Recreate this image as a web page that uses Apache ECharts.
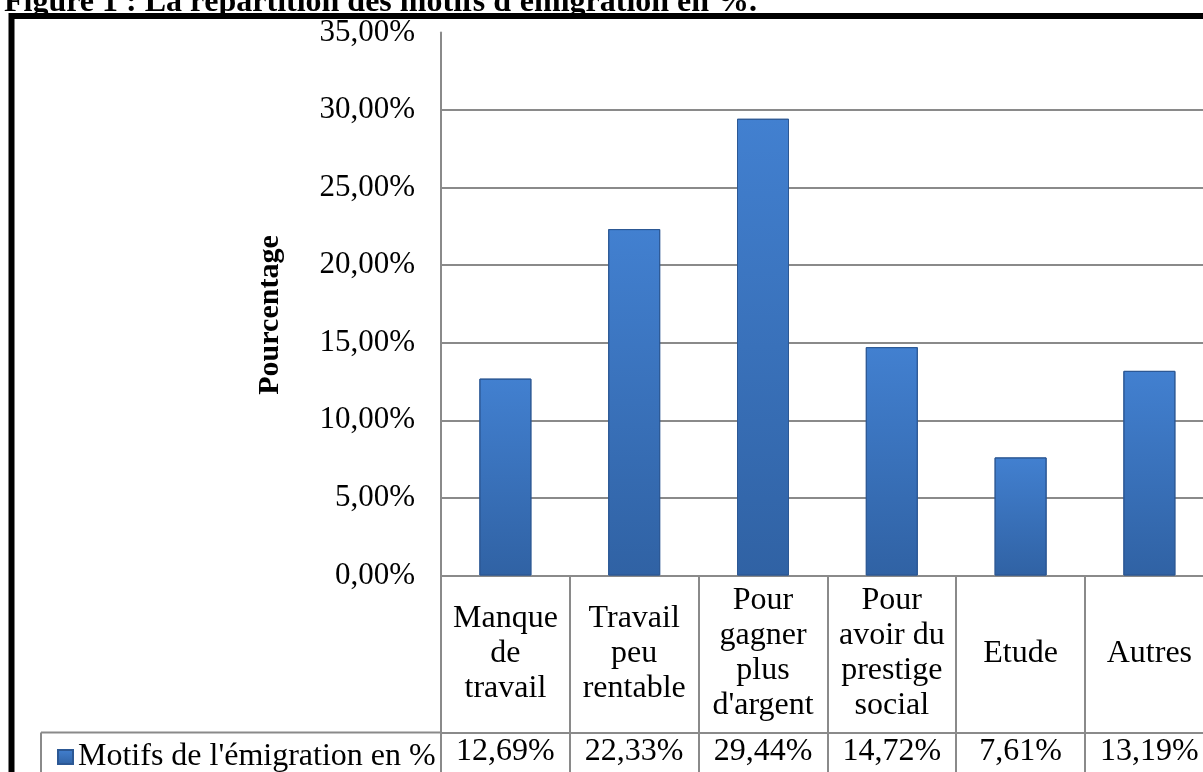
<!DOCTYPE html>
<html>
<head>
<meta charset="utf-8">
<script src="https://cdn.jsdelivr.net/npm/echarts@6/dist/echarts.min.js"></script>
<style>
html,body{margin:0;padding:0;background:#fff;}
#c{width:1203px;height:772px;}
</style>
</head>
<body>
<div id="c"></div>
<script>
const titleText = "Figure 1 : La répartition des motifs d'émigration en %.";
const categories = ["Manque\nde\ntravail", "Travail\npeu\nrentable", "Pour\ngagner\nplus\nd'argent", "Pour\navoir du\nprestige\nsocial", "Etude", "Autres"];
const seriesName = "Motifs de l'émigration en %";
const values = [12.69, 22.33, 29.44, 14.72, 7.61, 13.19];
const yTicks = { min: 0, max: 35, interval: 5 };
const axisTitle = "Pourcentage";

const fmt = v => v.toFixed(2).replace('.', ',') + '%';
const SERIF = '"Liberation Serif", "Times New Roman", serif';
const GRAY = '#8a8a8a';
const ROW_OFFSET = 157;
const barGrad = new echarts.graphic.LinearGradient(0, 0, 0, 1, [
  { offset: 0, color: '#4280d0' },
  { offset: 1, color: '#3062a4' }
]);

const chart = echarts.init(document.getElementById('c'), null, { renderer: 'canvas' });
const gridColors = [];
for (let v = yTicks.min; v <= yTicks.max; v += yTicks.interval) gridColors.push(v >= yTicks.max ? 'rgba(0,0,0,0)' : GRAY);

chart.setOption({
  animation: false,
  backgroundColor: '#fff',
  title: {
    text: titleText, left: -1, top: -18,
    textStyle: { fontFamily: SERIF, fontWeight: 'bold', fontSize: 32, color: '#000' }
  },
  legend: {
    left: 52, top: 736, icon: 'rect', itemWidth: 15, itemHeight: 14, itemGap: 6,
    textStyle: { fontFamily: SERIF, fontSize: 32, color: '#000' },
    data: [seriesName]
  },
  grid: { left: 441, top: 32.5, right: -10.8, bottom: 772 - 575.5, containLabel: false, outerBoundsMode: 'none' },
  xAxis: [{
    type: 'category', data: categories, position: 'bottom',
    axisLine: { show: true, lineStyle: { color: GRAY, width: 2 } },
    axisTick: { show: true, length: 220, interval: 0, alignWithLabel: false, lineStyle: { color: GRAY, width: 2 } },
    axisLabel: { interval: 0, margin: 78, verticalAlign: 'middle', fontFamily: SERIF, fontSize: 32, lineHeight: 35, color: '#000', align: 'center' }
  }, {
    type: 'category', data: values.map(fmt), position: 'bottom', offset: ROW_OFFSET,
    axisLine: { show: true, lineStyle: { color: GRAY, width: 2 } },
    axisTick: { show: false },
    axisLabel: { interval: 0, margin: 19, verticalAlign: 'middle', fontFamily: SERIF, fontSize: 32, color: '#000' }
  }],
  yAxis: {
    type: 'value', min: yTicks.min, max: yTicks.max, interval: yTicks.interval,
    name: axisTitle, nameLocation: 'middle', nameGap: 156, nameRotate: 90,
    nameTextStyle: { fontFamily: SERIF, fontWeight: 'bold', fontSize: 30, color: '#000', padding: [0, 22, 0, 0] },
    axisLine: { show: true, lineStyle: { color: GRAY, width: 2 } },
    axisTick: { show: false },
    splitLine: { show: true, lineStyle: { color: gridColors, width: 2 } },
    axisLabel: { formatter: fmt, margin: 26, fontFamily: SERIF, fontSize: 31, color: '#000' }
  },
  series: [{
    name: seriesName, type: 'bar', data: values, barWidth: 52, xAxisIndex: 0,
    itemStyle: { color: barGrad, borderColor: '#2c5894', borderWidth: 1 }
  }],
  graphic: []
});

// table borders for the legend cell, derived from the axis positions
const c0 = chart.convertToPixel({ xAxisIndex: 0 }, 0);
const c1 = chart.convertToPixel({ xAxisIndex: 0 }, 1);
const x0 = c0 - (c1 - c0) / 2;
const yRow = chart.convertToPixel({ yAxisIndex: 0 }, 0) + ROW_OFFSET;
chart.setOption({
  graphic: [
    { type: 'line', shape: { x1: 41, y1: yRow, x2: x0, y2: yRow }, style: { stroke: GRAY, lineWidth: 2 } },
    { type: 'line', shape: { x1: 41, y1: yRow, x2: 41, y2: 800 }, style: { stroke: GRAY, lineWidth: 2 } },
    { type: 'rect', shape: { x: 11.5, y: 16, width: 1400, height: 1000 }, style: { fill: 'none', stroke: '#000', lineWidth: 6 } }
  ]
});
</script>
</body>
</html>
